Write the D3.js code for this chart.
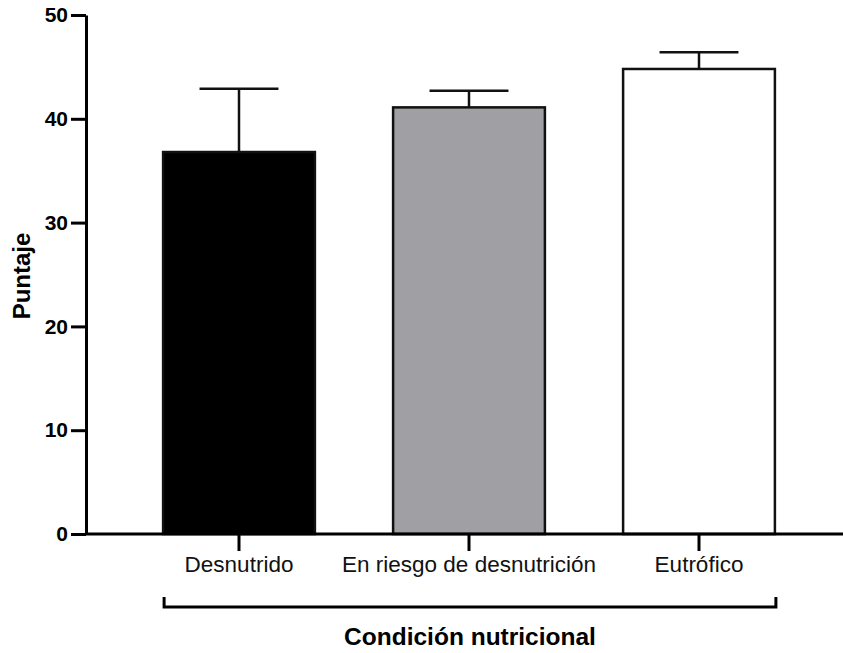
<!DOCTYPE html>
<html>
<head>
<meta charset="utf-8">
<script src="https://cdn.jsdelivr.net/npm/d3@7"></script>
<style>
  body { margin: 0; background: #fff; }
  svg { display: block; font-family: "Liberation Sans", Arial, sans-serif; }
</style>
</head>
<body>
<div id="chart"></div>
<script>
// data
const categories = ["Desnutrido", "En riesgo de desnutrición", "Eutrófico"];
const means = [36.8, 41.1, 44.8];
const sdUpper = [42.9, 42.7, 46.4];
const barColors = ["#000000", "#a09fa4", "#ffffff"];
const yTicks = [0, 10, 20, 30, 40, 50];

const width = 843, height = 653;

const svg = d3.select("#chart")
  .append("svg")
  .attr("width", width)
  .attr("height", height);

// scales
const x = d3.scaleBand()
  .domain(categories)
  .range([124, 814])
  .paddingInner(0.34)
  .paddingOuter(0.17);

const y = d3.scaleLinear()
  .domain([0, 50])
  .range([534, 15]);

const axisX = 86;

// y axis
const yAxis = svg.append("g")
  .attr("transform", "translate(" + axisX + ",0)")
  .call(d3.axisLeft(y).tickValues(yTicks).tickSize(15).tickSizeOuter(0).tickPadding(3));
yAxis.select(".domain").attr("stroke-width", 3).attr("stroke", "#000");
yAxis.selectAll(".tick line").attr("stroke-width", 3).attr("stroke", "#000");
yAxis.selectAll("text")
  .attr("font-size", 21)
  .attr("font-weight", "bold")
  .attr("fill", "#000")
  .attr("font-family", "Liberation Sans, Arial, sans-serif");

// bars
svg.selectAll("rect.bar")
  .data(categories)
  .enter()
  .append("rect")
  .attr("class", "bar")
  .attr("x", d => x(d))
  .attr("y", (d, i) => y(means[i]))
  .attr("width", x.bandwidth())
  .attr("height", (d, i) => y(0) - y(means[i]))
  .attr("fill", (d, i) => barColors[i])
  .attr("stroke", "#111")
  .attr("stroke-width", 2.5);

// error bars (upper only)
const capW = x.bandwidth() * 0.52;
const err = svg.selectAll("g.err")
  .data(categories)
  .enter()
  .append("g")
  .attr("class", "err");
err.append("line")
  .attr("x1", d => x(d) + x.bandwidth() / 2)
  .attr("x2", d => x(d) + x.bandwidth() / 2)
  .attr("y1", (d, i) => y(means[i]))
  .attr("y2", (d, i) => y(sdUpper[i]))
  .attr("stroke", "#111")
  .attr("stroke-width", 2.5);
err.append("line")
  .attr("x1", d => x(d) + x.bandwidth() / 2 - capW / 2)
  .attr("x2", d => x(d) + x.bandwidth() / 2 + capW / 2)
  .attr("y1", (d, i) => y(sdUpper[i]))
  .attr("y2", (d, i) => y(sdUpper[i]))
  .attr("stroke", "#111")
  .attr("stroke-width", 2.5);

// x axis
const xAxis = svg.append("g")
  .attr("transform", "translate(0," + y(0) + ")")
  .call(d3.axisBottom(x).tickSize(17).tickSizeOuter(0).tickPadding(5));
xAxis.select(".domain")
  .attr("d", "M" + axisX + ",0H" + width)
  .attr("stroke-width", 3)
  .attr("stroke", "#000");
xAxis.selectAll(".tick line").attr("stroke-width", 3).attr("stroke", "#000");
xAxis.selectAll("text")
  .attr("font-size", 22.5)
  .attr("fill", "#111")
  .attr("font-family", "Liberation Sans, Arial, sans-serif");

// bracket under the groups
const bx0 = x(categories[0]) + 1;
const bx1 = x(categories[categories.length - 1]) + x.bandwidth() + 1;
const by = 607;
svg.append("path")
  .attr("d", "M" + bx0 + "," + (by - 10) + "V" + by + "H" + bx1 + "V" + (by - 10))
  .attr("fill", "none")
  .attr("stroke", "#000")
  .attr("stroke-width", 3);

// axis titles
svg.append("text")
  .attr("x", (bx0 + bx1) / 2)
  .attr("y", 645)
  .attr("text-anchor", "middle")
  .attr("font-size", 24.5)
  .attr("font-weight", "bold")
  .text("Condición nutricional");

svg.append("text")
  .attr("transform", "translate(30,276) rotate(-90)")
  .attr("text-anchor", "middle")
  .attr("font-size", 24)
  .attr("font-weight", "bold")
  .text("Puntaje");
</script>
</body>
</html>
